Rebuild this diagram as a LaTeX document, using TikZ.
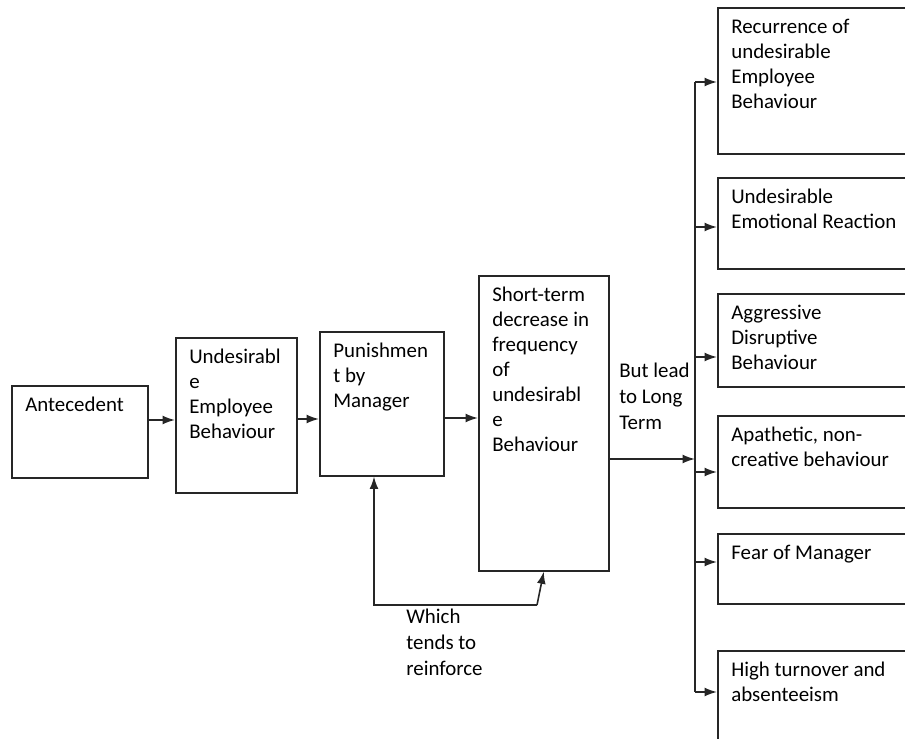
\documentclass[tikz,border=0pt]{standalone}
\usepackage{fontspec}
\setmainfont{Carlito}
\usepackage{tikz}
\usetikzlibrary{backgrounds,arrows.meta}
\pgfdeclarelayer{edgelayer}
\pgfdeclarelayer{nodelayer}
\pgfsetlayers{edgelayer,nodelayer,main}
\newcommand{\boxtext}[3]{\parbox[t][\dimexpr#2-0.46cm\relax][t]{\dimexpr#1-0.54cm\relax}{\raggedright #3}}
\tikzstyle{block}=[draw=black!85,line width=0.9pt,anchor=north west,inner xsep=0.27cm,inner ysep=0.23cm,font=\fontsize{11.9}{14.2}\selectfont]
\tikzstyle{words}=[anchor=north west,inner sep=0pt,align=left,font=\fontsize{11.9}{14.6}\selectfont]
\tikzstyle{flow}=[-{Latex[length=7pt,width=5pt]},draw=black!85,line width=0.9pt]
\tikzstyle{simple}=[-,draw=black!85,line width=0.9pt]

\begin{document}
\begin{tikzpicture}[x=0.02cm,y=-0.02cm]
	\useasboundingbox (0,0) rectangle (905,739);
	\begin{pgfonlayer}{nodelayer}
		\clip (0,0) rectangle (905,739);
		\node [style=block] (ante) at (11,385) {\boxtext{2.72cm}{1.84cm}{Antecedent}};
		\node [style=block] (undes) at (175,337) {\boxtext{2.42cm}{3.10cm}{Undesirabl\\e\\Employee\\Behaviour}};
		\node [style=block] (punish) at (319,331) {\boxtext{2.48cm}{2.88cm}{Punishmen\\t by\\Manager}};
		\node [style=block] (short) at (478,275) {\boxtext{2.60cm}{5.90cm}{Short-term\\decrease in\\frequency\\of\\undesirabl\\e\\Behaviour}};
		\node [style=block] (recur) at (717,7) {\boxtext{4.4cm}{2.92cm}{Recurrence of\\undesirable\\Employee\\Behaviour}};
		\node [style=block] (emot) at (717,177) {\boxtext{4.4cm}{1.82cm}{Undesirable\\Emotional Reaction}};
		\node [style=block] (aggr) at (717,293) {\boxtext{4.4cm}{1.86cm}{Aggressive\\Disruptive\\Behaviour}};
		\node [style=block] (apath) at (717,415) {\boxtext{4.4cm}{1.84cm}{Apathetic, non-\\creative behaviour}};
		\node [style=block] (fear) at (717,533) {\boxtext{4.4cm}{1.40cm}{Fear of Manager}};
		\node [style=block] (turn) at (717,650) {\boxtext{4.4cm}{2.20cm}{High turnover and\\absenteeism}};
		\node [style=words] (lead) at (619,363) {But lead\\to Long\\Term};
		\node [style=words] (which) at (406,609) {Which\\tends to\\reinforce};
		\coordinate (busT) at (695,82);
		\coordinate (busB) at (695,692);
		\coordinate (loopR) at (537,605);
		\coordinate (loopL) at (374,605);
	\end{pgfonlayer}
	\begin{pgfonlayer}{edgelayer}
		\clip (0,0) rectangle (905,739);
		\draw [style=flow] (ante.east |- 0,420) to (undes.west |- 0,420);
		\draw [style=flow] (undes.east |- 0,419) to (punish.west |- 0,419);
		\draw [style=flow] (punish.east |- 0,418) to (short.west |- 0,418);
		\draw [style=flow] (short.east |- 0,459) to (busT |- 0,459);
		\draw [style=simple] (busT) to (busB);
		\draw [style=flow] (busT) to (recur.west |- busT);
		\draw [style=flow] (busT |- 0,227) to (emot.west |- 0,227);
		\draw [style=flow] (busT |- 0,357) to (aggr.west |- 0,357);
		\draw [style=flow] (busT |- 0,472) to (apath.west |- 0,472);
		\draw [style=flow] (busT |- 0,562) to (fear.west |- 0,562);
		\draw [style=flow] (busB) to (turn.west |- busB);
		\draw [style=flow] (loopR) to (short.south);
		\draw [style=flow] (loopR) -- (loopL) -- (loopL |- punish.south);
	\end{pgfonlayer}
\end{tikzpicture}
\end{document}
